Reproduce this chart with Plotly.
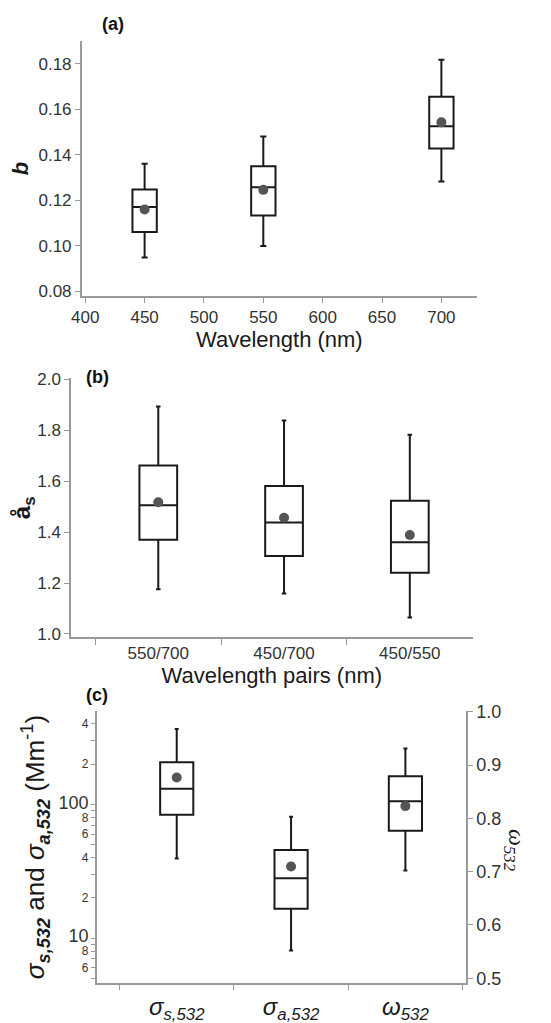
import plotly.graph_objects as go

# data
# (a) Angstrom-type b vs wavelength
wl = [450, 550, 700]
b_low = [0.0947, 0.0998, 0.1282]
b_q1 = [0.1060, 0.1132, 0.1427]
b_med = [0.1170, 0.1257, 0.1525]
b_q3 = [0.1247, 0.1349, 0.1655]
b_high = [0.1360, 0.1480, 0.1818]
b_mean = [0.1159, 0.1245, 0.1542]

# (b) scattering exponent per wavelength pair
pairs = ["550/700", "450/700", "450/550"]
a_low = [1.175, 1.159, 1.065]
a_q1 = [1.370, 1.306, 1.240]
a_med = [1.505, 1.437, 1.360]
a_q3 = [1.661, 1.581, 1.523]
a_high = [1.892, 1.837, 1.782]
a_mean = [1.517, 1.456, 1.388]

# (c) sigma_s, sigma_a (log axis) and omega (right axis)
c_cats = ["<i>σ<sub>s,532</sub></i>", "<i>σ<sub>a,532</sub></i>", "<i>ω<sub>532</sub></i>"]
sig_low = [39.4, 8.09]
sig_q1 = [83.8, 16.6]
sig_med = [131, 28.1]
sig_q3 = [207, 45.7]
sig_high = [367, 80.9]
sig_mean = [159, 34.4]
om_low = [0.702]
om_q1 = [0.777]
om_med = [0.832]
om_q3 = [0.879]
om_high = [0.931]
om_mean = [0.823]

sig_tickvals = [400, 300, 200, 100, 90, 80, 70, 60, 50, 40, 30, 20, 10, 9, 8, 7, 6, 5]
big = "<span style='font-size:18px'>%s</span>"
sig_ticktext = ["4", "", "2", big % "100", "", "8", "", "6", "", "4", "", "2", big % "10", "", "8", "", "6", ""]

W, H = 551, 1023
OFF = 8  # page body margin, the figure is drawn 8px in from the corner


def px(v):
    return (v - OFF) / W


def py(v):
    return 1 - (v - OFF) / H


FONT = "Liberation Sans, Arial, sans-serif"
BOXLINE = dict(color="#1a1a1a", width=2)
MEANC = "#555555"
AXC = "#9a9a9a"
TICKC = "#333333"

fig = go.Figure()

# (a)
fig.add_trace(go.Box(x=wl, q1=b_q1, median=b_med, q3=b_q3, lowerfence=b_low, upperfence=b_high,
                     width=20.5, whiskerwidth=0.25, fillcolor="white", line=BOXLINE,
                     xaxis="x", yaxis="y", showlegend=False))
fig.add_trace(go.Scatter(x=wl, y=b_mean, mode="markers", marker=dict(color=MEANC, size=10),
                         xaxis="x", yaxis="y", showlegend=False))

# (b)
fig.add_trace(go.Box(x=pairs, q1=a_q1, median=a_med, q3=a_q3, lowerfence=a_low, upperfence=a_high,
                     width=0.3, whiskerwidth=0.12, fillcolor="white", line=BOXLINE,
                     xaxis="x2", yaxis="y2", showlegend=False))
fig.add_trace(go.Scatter(x=pairs, y=a_mean, mode="markers", marker=dict(color=MEANC, size=10),
                         xaxis="x2", yaxis="y2", showlegend=False))

# (c)
fig.add_trace(go.Box(x=c_cats[:2], q1=sig_q1, median=sig_med, q3=sig_q3, lowerfence=sig_low,
                     upperfence=sig_high, width=0.29, whiskerwidth=0.12, fillcolor="white", line=BOXLINE,
                     xaxis="x3", yaxis="y3", showlegend=False))
fig.add_trace(go.Scatter(x=c_cats[:2], y=sig_mean, mode="markers", marker=dict(color=MEANC, size=10),
                         xaxis="x3", yaxis="y3", showlegend=False))
fig.add_trace(go.Box(x=c_cats[2:], q1=om_q1, median=om_med, q3=om_q3, lowerfence=om_low,
                     upperfence=om_high, width=0.29, whiskerwidth=0.12, fillcolor="white", line=BOXLINE,
                     xaxis="x3", yaxis="y4", showlegend=False))
fig.add_trace(go.Scatter(x=c_cats[2:], y=om_mean, mode="markers", marker=dict(color=MEANC, size=10),
                         xaxis="x3", yaxis="y4", showlegend=False))

ax_common = dict(showgrid=False, zeroline=False, showline=True, linecolor=AXC, linewidth=1.5,
                 ticks="outside", tickcolor=AXC, ticklen=5, tickwidth=1.2, automargin=False,
                 tickfont=dict(family=FONT, size=17, color=TICKC))

fig.update_layout(
    width=W, height=H,
    margin=dict(l=0, r=0, t=0, b=0),
    paper_bgcolor="white", plot_bgcolor="white",
    font=dict(family=FONT, color="#1a1a1a"),
    xaxis=dict(ax_common, domain=[px(81.7), px(477)], range=[397, 730], dtick=50,
               anchor="y",
               title=dict(text="Wavelength (nm)", font=dict(size=22, color="#1a1a1a"), standoff=4)),
    yaxis=dict(ax_common, domain=[py(296), py(41)], range=[0.0778, 0.190],
               tickvals=[0.08, 0.10, 0.12, 0.14, 0.16, 0.18], tickformat=".2f", anchor="x",
               title=dict(text="<b><i>b</i></b>", font=dict(size=22, color="#1a1a1a"), standoff=10)),
    xaxis2=dict(ax_common, domain=[px(71), px(472.7)], range=[-0.694, 2.5], tickson="boundaries",
                ticklen=6, anchor="y2",
                title=dict(text="Wavelength pairs (nm)", font=dict(size=22, color="#1a1a1a"), standoff=2)),
    yaxis2=dict(ax_common, domain=[py(637.3), py(378.3)], range=[0.987, 2.003], dtick=0.2,
                tickformat=".1f", anchor="x2",
                title=dict(text="<b>å<sub>s</sub></b>", font=dict(size=24, color="#1a1a1a"), standoff=8)),
    xaxis3=dict(ax_common, domain=[px(96.7), px(466)], range=[-0.70, 2.53], tickson="boundaries",
                categoryorder="array", categoryarray=c_cats, anchor="y3",
                tickfont=dict(family=FONT, size=24, color="#1a1a1a"), ticklabelstandoff=1),
    yaxis3=dict(ax_common, domain=[py(983.3), py(710.7)], type="log",
                range=[0.663, 2.701], tickmode="array", tickvals=sig_tickvals, ticktext=sig_ticktext,
                ticklen=4, tickfont=dict(family=FONT, size=12, color=TICKC), anchor="x3",
                title=dict(text="<i>σ<sub><b>s,532</b></sub></i> and <i>σ<sub><b>a,532</b></sub></i> (Mm<sup>-1</sup>)",
                           font=dict(size=26, color="#1a1a1a"), standoff=6)),
    yaxis4=dict(ax_common, domain=[py(983.3), py(710.7)], overlaying="y3", side="right",
                anchor="x3", range=[0.4906, 1.002], dtick=0.1, tickformat=".1f",
                tickfont=dict(family=FONT, size=18, color=TICKC)),
    annotations=[
        dict(text="<b>(a)</b>", x=px(113), y=py(24), xref="paper", yref="paper",
             xanchor="center", yanchor="middle", showarrow=False, font=dict(size=18, color="#111")),
        dict(text="<b>(b)</b>", x=px(97), y=py(377), xref="paper", yref="paper",
             xanchor="center", yanchor="middle", showarrow=False, font=dict(size=18, color="#111")),
        dict(text="<b>(c)</b>", x=px(97), y=py(695), xref="paper", yref="paper",
             xanchor="center", yanchor="middle", showarrow=False, font=dict(size=18, color="#111")),
        dict(text="<i>ω<sub>532</sub></i>", x=px(515), y=py(850), xref="paper", yref="paper",
             xanchor="center", yanchor="middle", showarrow=False, textangle=90,
             font=dict(family="Liberation Serif, Times New Roman, serif", size=24, color="#1a1a1a")),
    ],
)

fig.write_html("out.html")
